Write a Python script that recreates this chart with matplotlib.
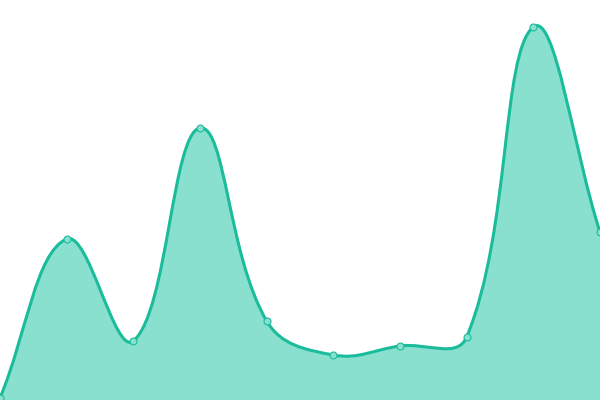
import numpy as np
import matplotlib
matplotlib.use("Agg")
import matplotlib.pyplot as plt
from matplotlib.path import Path
from matplotlib.patches import PathPatch

# values
x_idx = list(range(10))
values = [2, 161, 59, 272, 79, 45, 54, 63, 373, 168]

LINE = '#1abc9c'
FILL = '#8ae0cf'
TENSION = 0.4


def spline_controls(pts, t):
    # chart.js-like spline control points, pts in display coords
    n = len(pts)
    cps = []
    for i in range(n):
        prev = pts[max(i - 1, 0)]
        cur = pts[i]
        nxt = pts[min(i + 1, n - 1)]
        d01 = np.hypot(*(cur - prev))
        d12 = np.hypot(*(nxt - cur))
        tot = d01 + d12
        s01 = d01 / tot if tot else 0
        s12 = d12 / tot if tot else 0
        fa, fb = t * s01, t * s12
        cps.append((cur - fa * (nxt - prev), cur + fb * (nxt - prev)))
    return cps


fig = plt.figure(figsize=(6, 4), dpi=100)
ax = fig.add_axes([0, 0, 1, 1])
ax.set_xlim(0, 9)
ax.set_ylim(0, 400)
ax.axis('off')

disp = ax.transData.transform(np.column_stack([x_idx, values]).astype(float))
cps = spline_controls(disp, TENSION)

verts = [disp[0]]
codes = [Path.MOVETO]
for i in range(len(disp) - 1):
    verts += [cps[i][1], cps[i + 1][0], disp[i + 1]]
    codes += [Path.CURVE4] * 3
inv = ax.transData.inverted()
verts_d = inv.transform(np.array(verts))

line_path = Path(verts_d, codes)
fill_verts = np.vstack([verts_d, [[x_idx[-1], 0], [x_idx[0], 0], verts_d[0]]])
fill_codes = codes + [Path.LINETO, Path.LINETO, Path.CLOSEPOLY]
ax.add_patch(PathPatch(Path(fill_verts, fill_codes), facecolor=FILL, edgecolor='none', zorder=1))
ax.add_patch(PathPatch(line_path, facecolor='none', edgecolor=LINE, lw=2.2, zorder=2))
ax.plot(x_idx, values, 'o', ms=5, mfc=FILL, mec=LINE, mew=0.8, zorder=3, clip_on=False)

fig.savefig('out.png')
